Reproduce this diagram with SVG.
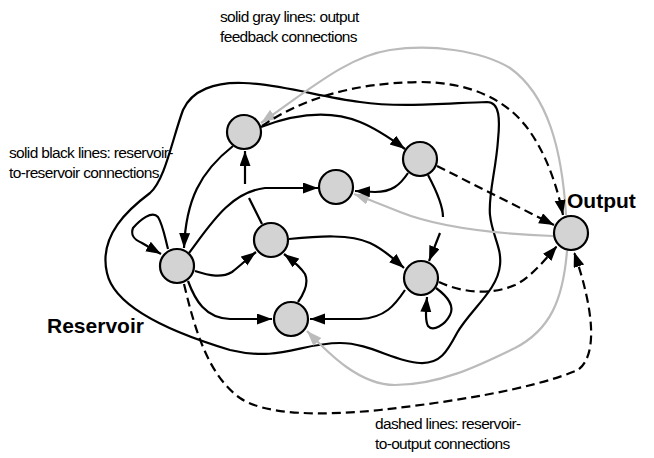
<svg xmlns="http://www.w3.org/2000/svg" width="654" height="458" viewBox="0 0 654 458">
<defs>
<style>
.bk{fill:none;stroke:#000;stroke-width:2.2}
.ds{fill:none;stroke:#000;stroke-width:2.2;stroke-dasharray:9,5}
.gr{fill:none;stroke:#bbbbbb;stroke-width:2.2}
.nd{fill:#d3d3d3;stroke:#000;stroke-width:2.2}
.note{font-family:"Liberation Sans",Arial,sans-serif;font-size:15.5px;letter-spacing:-0.65px;fill:#000}
.big{font-family:"Liberation Sans",Arial,sans-serif;font-size:21px;font-weight:bold;fill:#000}
</style>
<marker id="ab" markerUnits="userSpaceOnUse" markerWidth="16" markerHeight="12" refX="15" refY="5.5" orient="auto"><path d="M0,0 L15,5.5 L0,11 Z" fill="#000"/></marker>
<marker id="ag" markerUnits="userSpaceOnUse" markerWidth="16" markerHeight="12" refX="15" refY="5.5" orient="auto"><path d="M0,0 L15,5.5 L0,11 Z" fill="#bbbbbb"/></marker>
</defs>

<g id="reservoir-boundary">
<path class="bk" d="M183,110 C192,90 215,82 243,83 C280,84 320,97 360,102 C400,108 450,103 487,102 C500,102 500,120 498,140 C496,170 488,195 490,215 C492,235 502,248 500,265 C498,290 470,310 457,333 C447,352 440,364 420,363 C395,362 370,343 340,343 C300,343 280,362 230,350 C180,335 115,310 107,273 C98,235 130,208 150,193 C165,180 172,140 183,110 Z"/>
</g>

<g id="connectors">
<!-- gray output feedback -->
<path class="gr" marker-end="url(#ag)" d="M566,215 C562,150 548,95 510,68 C480,50 430,44 390,50 C350,56 315,85 261,123"/>
<path class="gr" marker-end="url(#ag)" d="M553,236 C500,234 440,228 400,212 C385,206 370,200 354,194"/>
<path class="gr" marker-end="url(#ag)" d="M567,251 C563,300 550,330 515,348 C480,365 440,385 395,385 C360,385 330,355 307,331"/>
<!-- dashed reservoir-to-output -->
<path class="ds" marker-end="url(#ab)" d="M262,126 C300,100 350,83 420,82 C470,82 505,100 525,125 C545,150 557,185 563,215"/>
<path class="ds" marker-end="url(#ab)" d="M437,166 L554,225"/>
<path class="ds" marker-end="url(#ab)" d="M439,282 C460,292 490,296 515,285 C530,278 545,260 557,246"/>
<path class="ds" marker-end="url(#ab)" d="M184,284 C195,330 208,375 240,398 C265,415 320,416 380,410 C450,402 530,390 578,370 C598,355 594,310 574,252"/>
<!-- black reservoir-to-reservoir -->
<path class="bk" marker-end="url(#ab)" d="M261,127 C295,114 330,110 360,122 C375,128 390,138 405,149"/>
<path class="bk" marker-end="url(#ab)" d="M233,146 C200,172 186,200 184,248"/>
<path class="bk" d="M262,224 L249,198"/>
<path class="bk" marker-end="url(#ab)" d="M245,184 L245,151"/>
<path class="bk" marker-end="url(#ab)" d="M189,253 C210,225 230,192 265,188 L318,188"/>
<path class="bk" marker-end="url(#ab)" d="M408,173 C400,185 392,192 375,192 L355,191"/>
<path class="bk" d="M428,175 C436,190 443,205 443,217"/>
<path class="bk" marker-end="url(#ab)" d="M440,233 L429,261"/>
<path class="bk" marker-end="url(#ab)" d="M289,239 C320,236 350,234 370,243 C385,250 395,260 404,268"/>
<path class="bk" marker-end="url(#ab)" d="M195,271 C210,276 222,278 232,272 C240,266 248,258 256,252"/>
<path class="bk" marker-end="url(#ab)" d="M188,281 C195,300 205,318 230,319 L272,319"/>
<path class="bk" marker-end="url(#ab)" d="M298,302 C305,292 309,283 305,274 C300,266 292,260 284,254"/>
<path class="bk" marker-end="url(#ab)" d="M405,290 C395,305 385,318 360,319 L310,319"/>
<path class="bk" marker-end="url(#ab)" d="M436,288 C447,296 455,305 450,315 C445,325 433,332 428,326 C425,320 426,310 427,297"/>
<path class="bk" marker-end="url(#ab)" d="M168,249 C165,238 163,225 158,217 C152,210 140,220 133,228 C130,236 135,240 142,243 L161,254"/>
</g>

<g id="n1"><circle class="nd" cx="244" cy="132" r="17"/></g>
<g id="n2"><circle class="nd" cx="420" cy="159" r="17"/></g>
<g id="n3"><circle class="nd" cx="336" cy="187" r="17"/></g>
<g id="n4"><circle class="nd" cx="177" cy="266" r="17"/></g>
<g id="n5"><circle class="nd" cx="271" cy="240" r="17"/></g>
<g id="n6"><circle class="nd" cx="421" cy="278" r="17"/></g>
<g id="n7"><circle class="nd" cx="291" cy="319" r="17"/></g>
<g id="output"><circle class="nd" cx="571" cy="233" r="17"/><text class="big" x="567" y="208">Output</text></g>

<g id="labels">
<text class="big" x="47" y="333">Reservoir</text>
<text class="note" x="220" y="22">solid gray lines: output</text>
<text class="note" x="220" y="42">feedback connections</text>
<text class="note" x="9" y="158">solid black lines: reservoir-</text>
<text class="note" x="9" y="178">to-reservoir connections</text>
<text class="note" x="375" y="429">dashed lines: reservoir-</text>
<text class="note" x="375" y="449">to-output connections</text>
</g>
</svg>
